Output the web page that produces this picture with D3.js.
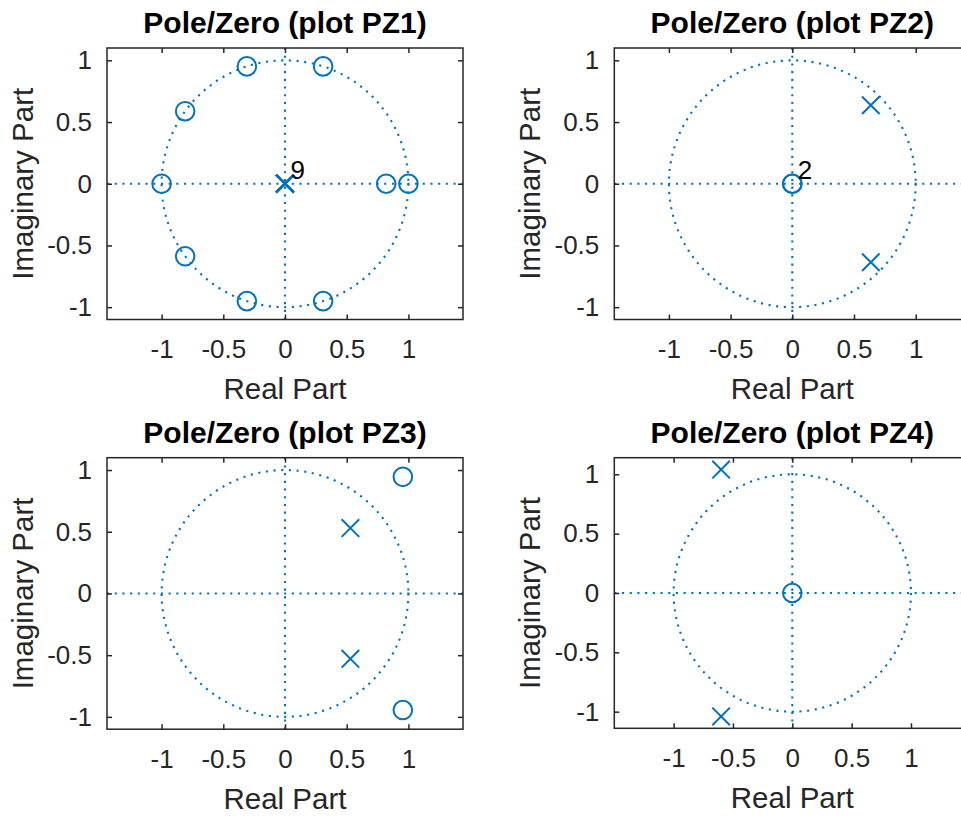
<!DOCTYPE html>
<html lang="en">
<head>
    <meta charset="UTF-8">
    <title>Pole/Zero plots</title>
    <script src="https://d3js.org/d3.v7.min.js"></script>
    <style>
        body {
            margin: 0;
            background: white;
        }

        text {
            font-family: "Liberation Sans", Arial, Helvetica, sans-serif;
        }

        .dotted {
            fill: none;
            stroke: #0072BD;
            stroke-width: 2.1px;
            stroke-dasharray: 2.1 5.6;
        }

        .marker {
            fill: none;
            stroke: #0072BD;
            stroke-width: 2px;
        }
    </style>
</head>
<body>
    <div id="chart"></div>
    <script>
        /*----------------------- data -----------------------*/
        const titles = ["Pole/Zero (plot PZ1)", "Pole/Zero (plot PZ2)",
                        "Pole/Zero (plot PZ3)", "Pole/Zero (plot PZ4)"];

        // [real, imag] pairs, repeated entries = multiple roots
        const pz1Zeros = [[1, 0], [0.82, 0], [0.309, 0.951], [-0.309, 0.951], [-0.809, 0.588],
                          [-1, 0], [-0.809, -0.588], [-0.309, -0.951], [0.309, -0.951]];
        const pz1Poles = [[0, 0], [0, 0], [0, 0], [0, 0], [0, 0], [0, 0], [0, 0], [0, 0], [0, 0]];

        const pz2Zeros = [[0, 0], [0, 0]];
        const pz2Poles = [[0.636, 0.636], [0.636, -0.636]];

        const pz3Zeros = [[0.955, 0.945], [0.955, -0.945]];
        const pz3Poles = [[0.53, 0.53], [0.53, -0.53]];

        const pz4Zeros = [[0, 0]];
        const pz4Poles = [[-0.6, 1.04], [-0.6, -1.04]];

        const yLimits = [1.1, 1.1, 1.1, 1.14];
        const tickValues = [-1, -0.5, 0, 0.5, 1];

        /*----------------------- layout ---------------------*/
        const width = 961, height = 819;
        const colLeft = [107, 614.3];
        const rowTop = [48, 457.7];
        const boxW = 356, boxH = 271.5;
        const axisColor = "#262626";

        const panels = [
            { title: titles[0], zeros: pz1Zeros, poles: pz1Poles, ylim: yLimits[0] },
            { title: titles[1], zeros: pz2Zeros, poles: pz2Poles, ylim: yLimits[1] },
            { title: titles[2], zeros: pz3Zeros, poles: pz3Poles, ylim: yLimits[2] },
            { title: titles[3], zeros: pz4Zeros, poles: pz4Poles, ylim: yLimits[3] }
        ];

        const svg = d3.select("#chart").append("svg")
            .attr("width", width)
            .attr("height", height)
            .style("background", "white");

        const fmt = d => String(d);

        // count repeated roots so the multiplicity can be written next to them
        function multiplicity(list) {
            return Array.from(d3.rollup(list, v => v.length, d => d[0] + "," + d[1]),
                ([k, n]) => ({ re: +k.split(",")[0], im: +k.split(",")[1], n: n }));
        }

        panels.forEach((p, i) => {
            const left = colLeft[i % 2];
            const top = rowTop[Math.floor(i / 2)];
            const h = i === 3 ? 270.6 : boxH;

            // axis equal: same pixels per unit on both axes
            const unit = h / (2 * p.ylim);
            const xlim = boxW / (2 * unit);

            const x = d3.scaleLinear().domain([-xlim, xlim]).range([0, boxW]);
            const y = d3.scaleLinear().domain([-p.ylim, p.ylim]).range([h, 0]);

            const g = svg.append("g").attr("transform", `translate(${left},${top})`);

            // unit circle and the two axis lines
            g.append("ellipse")
                .attr("class", "dotted")
                .attr("cx", x(0)).attr("cy", y(0))
                .attr("rx", x(1) - x(0)).attr("ry", y(0) - y(1));
            g.append("line").attr("class", "dotted")
                .attr("x1", 0).attr("x2", boxW).attr("y1", y(0)).attr("y2", y(0));
            g.append("line").attr("class", "dotted")
                .attr("x1", x(0)).attr("x2", x(0)).attr("y1", 0).attr("y2", h);

            // zeros (circles), one per root
            g.selectAll(".zero")
                .data(p.zeros)
                .enter()
                .append("circle")
                .attr("class", "marker zero")
                .attr("cx", d => x(d[0]))
                .attr("cy", d => y(d[1]))
                .attr("r", 9.3);

            // poles (crosses), one per root
            const s = 8.8;
            g.selectAll(".pole")
                .data(p.poles)
                .enter()
                .append("path")
                .attr("class", "marker pole")
                .attr("d", d => {
                    const cx = x(d[0]), cy = y(d[1]);
                    return `M${cx - s},${cy - s}L${cx + s},${cy + s}M${cx - s},${cy + s}L${cx + s},${cy - s}`;
                });

            // multiplicity labels
            g.selectAll(".mult")
                .data(multiplicity(p.zeros).concat(multiplicity(p.poles)).filter(d => d.n > 1))
                .enter()
                .append("text")
                .attr("x", d => x(d.re) + 5.5)
                .attr("y", d => y(d.im) - 5)
                .attr("fill", "black")
                .style("font-size", "26px")
                .text(d => d.n);

            // box and inward ticks on all four sides
            const axes = [
                { ax: d3.axisBottom(x).tickFormat(fmt), tr: `translate(0,${h})` },
                { ax: d3.axisTop(x).tickFormat(""), tr: "translate(0,0)" },
                { ax: d3.axisLeft(y).tickFormat(fmt), tr: "translate(0,0)" },
                { ax: d3.axisRight(y).tickFormat(""), tr: `translate(${boxW},0)` }
            ];
            axes.forEach((a, k) => {
                const ag = g.append("g")
                    .attr("transform", a.tr)
                    .call(a.ax.tickValues(tickValues).tickSizeInner(-5).tickSizeOuter(0)
                        .tickPadding(k === 0 ? 20 : 15));
                ag.select(".domain").remove();
                ag.selectAll(".tick line").attr("stroke", axisColor).attr("stroke-width", 1.5);
                ag.selectAll(".tick text")
                    .attr("fill", axisColor)
                    .style("font-size", "26px")
                    .style("font-family", '"Liberation Sans", Arial, Helvetica, sans-serif');
            });

            g.append("rect")
                .attr("width", boxW).attr("height", h)
                .attr("fill", "none")
                .attr("stroke", axisColor)
                .attr("stroke-width", 1.5);

            // title and axis labels
            g.append("text")
                .attr("x", boxW / 2)
                .attr("y", -15)
                .attr("text-anchor", "middle")
                .attr("fill", "black")
                .style("font-size", "30px")
                .style("font-weight", "bold")
                .text(p.title);

            g.append("text")
                .attr("x", boxW / 2)
                .attr("y", h + 79.5)
                .attr("text-anchor", "middle")
                .attr("fill", axisColor)
                .style("font-size", "29.5px")
                .text("Real Part");

            g.append("text")
                .attr("transform", `translate(-74,${h / 2}) rotate(-90)`)
                .attr("text-anchor", "middle")
                .attr("fill", axisColor)
                .style("font-size", "29.5px")
                .text("Imaginary Part");
        });
    </script>
</body>
</html>
